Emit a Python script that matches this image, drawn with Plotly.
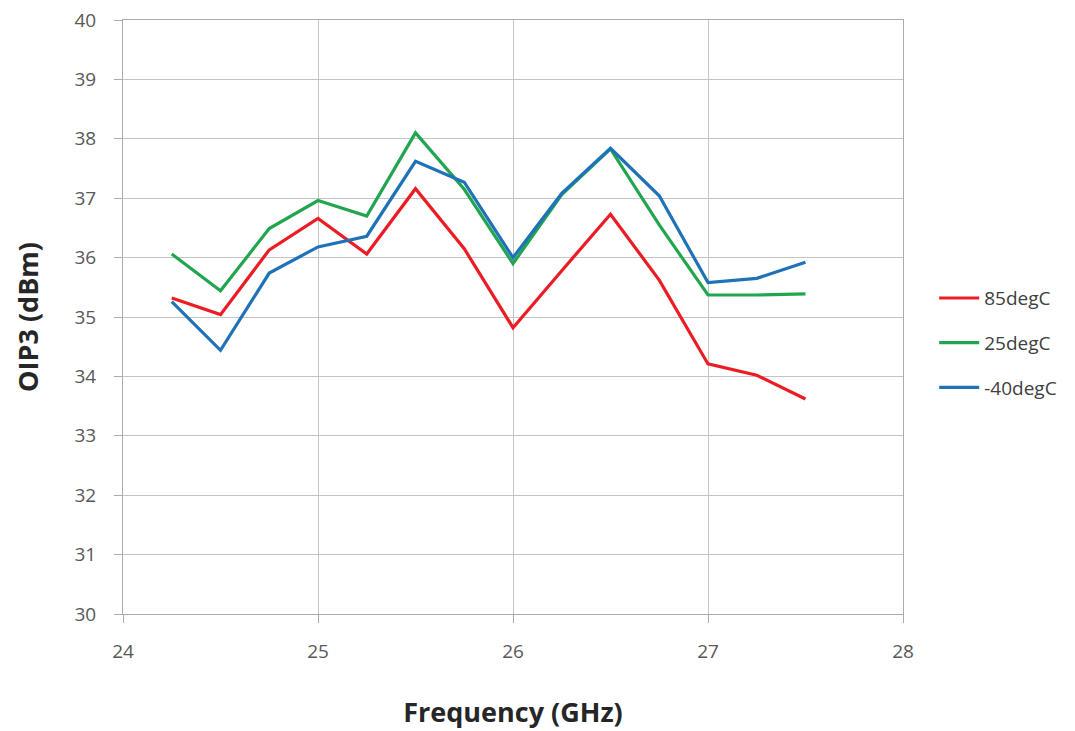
import plotly.graph_objects as go

freq = [24.25, 24.5, 24.75, 25.0, 25.25, 25.5, 25.75, 26.0, 26.25, 26.5, 26.75, 27.0, 27.25, 27.5]
oip3_85 = [35.32, 35.04, 36.13, 36.66, 36.06, 37.16, 36.15, 34.82, 35.78, 36.73, 35.62, 34.21, 34.02, 33.62]
oip3_25 = [36.06, 35.44, 36.49, 36.96, 36.70, 38.10, 37.15, 35.90, 37.06, 37.83, 36.55, 35.37, 35.37, 35.39]
oip3_m40 = [35.26, 34.44, 35.74, 36.18, 36.36, 37.62, 37.27, 36.00, 37.08, 37.84, 37.04, 35.58, 35.65, 35.92]

series = [
    ("85degC", oip3_85, "#ec1c24"),
    ("25degC", oip3_25, "#21a64f"),
    ("-40degC", oip3_m40, "#1f72b8"),
]

fig = go.Figure()
for i, (name, vals, col) in enumerate(series):
    fig.add_trace(go.Scatter(x=freq, y=vals, mode="lines", name=name,
                             legendgroup=f"g{i}",
                             line=dict(color=col, width=3.2)))

axis_common = dict(
    showgrid=True, gridcolor="#c4c4c4", gridwidth=1,
    showline=True, linecolor="#ababab", linewidth=1,
    ticks="outside", ticklen=8, tickcolor="#ababab",
    tickfont=dict(family="Open Sans", size=19, color="#595959"),
    zeroline=False, automargin=False,
)

fig.update_layout(
    width=1075, height=731,
    paper_bgcolor="white", plot_bgcolor="white",
    margin=dict(l=123, r=172, t=20, b=117),
    xaxis=dict(range=[24, 28], dtick=1, tick0=24,
               ticklabelstandoff=12,
               title=dict(text="<b>Frequency (GHz)</b>", standoff=40,
                          font=dict(family="Open Sans", size=27, color="#262626")),
               mirror=True, **axis_common),
    yaxis=dict(range=[30, 40], dtick=1, tick0=30,
               ticklabelstandoff=14,
               title=dict(text="<b>OIP3 (dBm)</b>", standoff=28,
                          font=dict(family="Open Sans", size=27, color="#262626")),
               mirror=True, **axis_common),
    legend=dict(x=1.04, y=0.456, xanchor="left", yanchor="middle",
                traceorder="grouped", tracegroupgap=17,
                font=dict(family="Open Sans", size=19, color="#404040"),
                itemwidth=40),
    showlegend=True,
)

fig.write_html("out.html", config={"displayModeBar": False},
               post_script="document.body.style.margin='0';")
